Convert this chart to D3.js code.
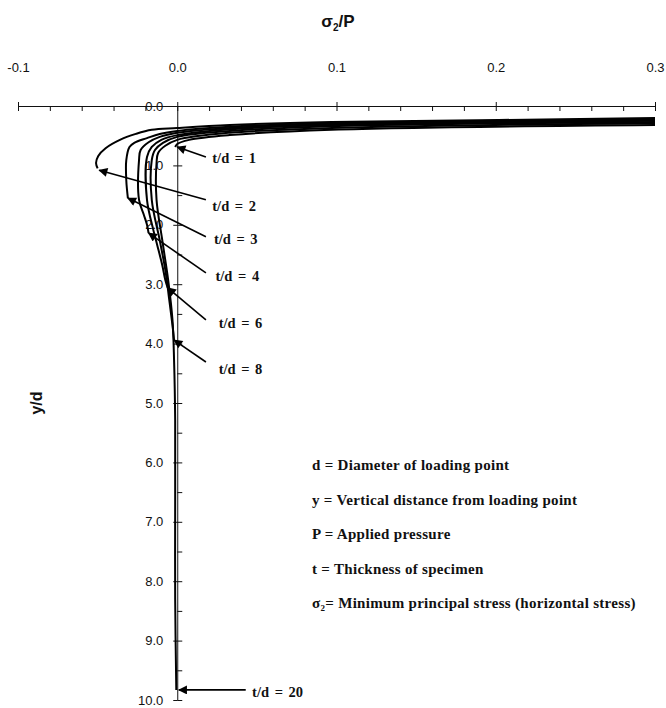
<!DOCTYPE html>
<html>
<head>
<meta charset="utf-8">
<script src="https://cdn.jsdelivr.net/npm/d3@7"></script>
<style>
  body { margin: 0; background: #fff; }
  svg text { fill: #111; }
</style>
</head>
<body>
<svg id="chart" width="666" height="708"></svg>
<script>
// ===== DATA (x = sigma2/P, y = y/d) =====
const xMajorTicks = [-0.1, 0.0, 0.1, 0.2, 0.3];
const xMinorTicks = [-0.08, -0.06, -0.04, -0.02, 0.02, 0.04, 0.06, 0.08, 0.12, 0.14, 0.16, 0.18, 0.22, 0.24, 0.26, 0.28];
const yMajorTicks = [0, 1, 2, 3, 4, 5, 6, 7, 8, 9, 10];
const yMinorTicks = [0.5, 1.5, 2.5, 3.5, 4.5, 5.5, 6.5, 7.5, 8.5, 9.5];

const curveTd1 = [[0.3, 0.32], [0.097, 0.40], [0.033, 0.49], [0.0075, 0.57], [0, 0.64], [-0.0013, 0.69]];
const curveTd2 = [[0.3, 0.20], [0.202, 0.236], [0.097, 0.27], [0.033, 0.32], [0, 0.37], [-0.016, 0.40],
                  [-0.026, 0.47], [-0.036, 0.57], [-0.045, 0.71], [-0.0496, 0.84], [-0.051, 0.96], [-0.050, 1.05]];
const curveTd3 = [[0.3, 0.22], [0.097, 0.29], [0.033, 0.35], [0, 0.42], [-0.011, 0.47], [-0.019, 0.54],
                  [-0.027, 0.62], [-0.030, 0.69], [-0.032, 0.91], [-0.032, 1.25], [-0.031, 1.55]];
const curveTd4 = [[0.3, 0.235], [0.097, 0.30], [0.033, 0.37], [0, 0.45], [-0.011, 0.52], [-0.018, 0.61],
                  [-0.023, 0.74], [-0.024, 0.91], [-0.024, 1.58], [-0.021, 1.83], [-0.019, 2.0], [-0.018, 2.14]];
const curveTd6 = [[0.3, 0.25], [0.097, 0.32], [0.033, 0.39], [0, 0.49], [-0.010, 0.57], [-0.016, 0.69],
                  [-0.019, 0.86], [-0.019, 1.58], [-0.015, 2.09], [-0.0126, 2.34], [-0.0094, 2.68], [-0.0075, 2.93], [-0.006, 3.06]];
const curveTd8 = [[0.3, 0.27], [0.097, 0.34], [0.033, 0.42], [0, 0.52], [-0.009, 0.62], [-0.014, 0.74],
                  [-0.016, 0.91], [-0.016, 1.58], [-0.011, 2.26], [-0.0075, 2.76], [-0.005, 3.27], [-0.003, 3.69], [-0.002, 3.94]];
const curveTd20 = [[0.3, 0.29], [0.097, 0.37], [0.033, 0.45], [0, 0.57], [-0.0075, 0.67], [-0.012, 0.79],
                   [-0.013, 0.96], [-0.013, 1.58], [-0.0094, 2.26], [-0.0057, 2.93], [-0.003, 3.6], [-0.002, 4.28],
                   [-0.0013, 5.3], [-0.0013, 6.63], [-0.0013, 8.3], [-0.0006, 9.83]];

// arrow annotations: label text, tail (near label) and tip (on curve), both in data units
const tdLabels = ['t/d = 1', 't/d = 2', 't/d = 3', 't/d = 4', 't/d = 6', 't/d = 8', 't/d = 20'];
const arrowTails = [[0.018, 0.86], [0.018, 1.58], [0.018, 2.2], [0.018, 2.81], [0.018, 3.6], [0.018, 4.31], [0.043, 9.83]];
const arrowTips = [[0.0, 0.69], [-0.049, 1.08], [-0.031, 1.55], [-0.018, 2.14], [-0.006, 3.06], [-0.002, 3.94], [0.001, 9.83]];
const labelAnchors = [[0.022, 0.88], [0.022, 1.68], [0.023, 2.24], [0.024, 2.87], [0.026, 3.66], [0.026, 4.42], [0.047, 9.87]];

const legendLines = [
  ['d', ' = Diameter of loading point'],
  ['y', ' = Vertical distance from loading point'],
  ['P', ' = Applied pressure'],
  ['t', '  = Thickness of specimen'],
  ['σ₂', '= Minimum principal stress (horizontal stress)']
];

// ===== CHART =====
const svg = d3.select('#chart');
const x = d3.scaleLinear().domain([-0.1, 0.3]).range([18, 655]);
const y = d3.scaleLinear().domain([0, 10]).range([106, 700]);
const fmt = d => d.toFixed(1);

// title
const title = svg.append('text')
  .attr('x', 338).attr('y', 27)
  .attr('text-anchor', 'middle')
  .attr('font-family', 'Liberation Sans, Arial, sans-serif')
  .attr('font-size', 17).attr('font-weight', 700);
title.append('tspan').text('σ');
title.append('tspan').attr('font-size', 10).attr('dy', 4).text('2');
title.append('tspan').attr('dy', -4).text('/P');

// x axis (top)
svg.append('g').attr('transform', `translate(0,${y(0)})`)
  .call(d3.axisTop(x).tickValues(xMajorTicks).tickFormat(fmt).tickSizeInner(4).tickSizeOuter(0).tickPadding(30));
svg.append('g').attr('transform', `translate(0,${y(0)})`)
  .call(d3.axisBottom(x).tickValues(xMinorTicks.concat(xMajorTicks)).tickFormat('').tickSizeInner(5).tickSizeOuter(0))
  .call(g => g.select('.domain').remove());

// y axis
svg.append('g').attr('transform', `translate(${x(0)},0)`)
  .call(d3.axisLeft(y).tickValues(yMajorTicks).tickFormat(fmt).tickSizeInner(4).tickSizeOuter(0).tickPadding(10));
svg.append('g').attr('transform', `translate(${x(0)},0)`)
  .call(d3.axisRight(y).tickValues(yMajorTicks.concat(yMinorTicks)).tickFormat('').tickSizeInner(5).tickSizeOuter(0))
  .call(g => g.select('.domain').remove());

svg.selectAll('.tick text')
  .attr('font-family', 'Liberation Sans, Arial, sans-serif')
  .attr('font-size', 13);
svg.selectAll('.domain, .tick line').attr('stroke', '#111');

// y axis title
svg.append('text')
  .attr('transform', `translate(42,${(y(0) + y(10)) / 2}) rotate(-90)`)
  .attr('text-anchor', 'middle')
  .attr('font-family', 'Liberation Sans, Arial, sans-serif')
  .attr('font-size', 16).attr('font-weight', 700)
  .text('y/d');

// curves
const line = d3.line()
  .x(d => x(d[0])).y(d => y(d[1]))
  .curve(d3.curveCatmullRom.alpha(0.5));
const curves = [curveTd1, curveTd2, curveTd3, curveTd4, curveTd6, curveTd8, curveTd20];
svg.append('g').selectAll('path').data(curves).join('path')
  .attr('d', line)
  .attr('fill', 'none')
  .attr('stroke', '#000')
  .attr('stroke-width', 2);

// arrows
svg.append('defs').append('marker')
  .attr('id', 'head').attr('viewBox', '0 0 10 10')
  .attr('refX', 9).attr('refY', 5)
  .attr('markerWidth', 12).attr('markerHeight', 9)
  .attr('markerUnits', 'userSpaceOnUse')
  .attr('orient', 'auto')
  .append('path').attr('d', 'M0,0 L10,5 L0,10 Z').attr('fill', '#000');

svg.append('g').selectAll('line').data(arrowTails).join('line')
  .attr('x1', d => x(d[0])).attr('y1', d => y(d[1]))
  .attr('x2', (d, i) => x(arrowTips[i][0])).attr('y2', (d, i) => y(arrowTips[i][1]))
  .attr('stroke', '#000').attr('stroke-width', 1.6)
  .attr('marker-end', 'url(#head)');

svg.append('g').selectAll('text').data(tdLabels).join('text')
  .attr('x', (d, i) => x(labelAnchors[i][0]))
  .attr('y', (d, i) => y(labelAnchors[i][1]) + 5)
  .attr('font-family', 'Liberation Serif, Times New Roman, serif')
  .attr('font-size', 14.5).attr('font-weight', 700)
  .attr('word-spacing', 2)
  .text(d => d);

// legend
const legend = svg.append('g')
  .attr('font-family', 'Liberation Serif, Times New Roman, serif')
  .attr('font-size', 15).attr('font-weight', 700)
  .attr('letter-spacing', 0.3);
legendLines.forEach((l, i) => {
  const t = legend.append('text').attr('x', 312).attr('y', 470 + i * 34.5);
  if (l[0] === 'σ₂') {
    t.append('tspan').text('σ');
    t.append('tspan').attr('font-size', 9).attr('dy', 3).text('2');
    t.append('tspan').attr('dy', -3).text(l[1]);
  } else {
    t.append('tspan').text(l[0]);
    t.append('tspan').text(l[1]);
  }
});
</script>
</body>
</html>
